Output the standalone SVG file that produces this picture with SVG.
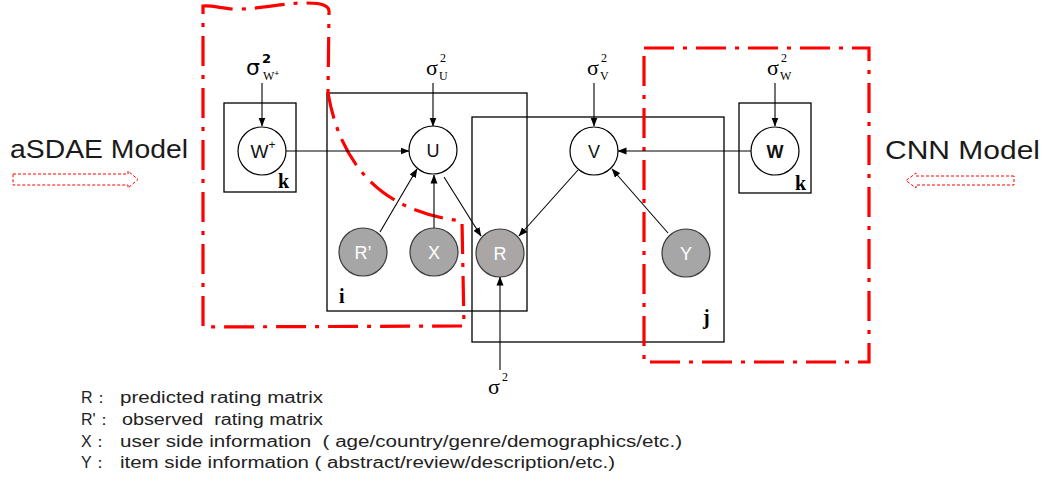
<svg xmlns="http://www.w3.org/2000/svg" width="1047" height="481" viewBox="0 0 1047 481">
<style>
.plate{fill:none;stroke:#000;stroke-width:1.3}
.red{fill:none;stroke:#ff0000;stroke-width:3.2;stroke-dasharray:30 9 4 9}
.hollow{fill:#fff;stroke:#ff0000;stroke-width:1;stroke-dasharray:3 2}
.wnode{fill:#fff;stroke:#000;stroke-width:1.2}
.gnode{fill:#a6a6a6;stroke:#3a3a3a;stroke-width:1.2}
.edge{fill:none;stroke:#000;stroke-width:1.1;marker-end:url(#ah)}
.lbl{font-family:"Liberation Sans","DejaVu Sans",sans-serif;font-size:18px;text-anchor:middle;fill:#111}
.glbl{font-family:"Liberation Sans","DejaVu Sans",sans-serif;font-size:18px;text-anchor:middle;fill:#fff}
.serif{font-family:"Liberation Serif","DejaVu Serif",serif}
.plab{font-family:"Liberation Serif","DejaVu Serif",serif;font-weight:bold;font-size:20px}
.model{font-family:"Liberation Sans","DejaVu Sans",sans-serif;font-size:26px;fill:#1a1a1a}
.leg{font-family:"Liberation Sans","DejaVu Sans",sans-serif;font-size:16px;fill:#222}
</style>
<defs>
<marker id="ah" markerWidth="9" markerHeight="8" refX="8.5" refY="4" orient="auto" markerUnits="userSpaceOnUse">
<path d="M0,0.5 L9,4 L0,7.5 Z" fill="#000"/>
</marker>
</defs>
<rect width="1047" height="481" fill="#fff"/>

<g id="plates">
<rect class="plate" x="224" y="103" width="72" height="89"/>
<rect class="plate" x="327" y="93" width="200" height="218"/>
<rect class="plate" x="472" y="117" width="252" height="225"/>
<rect class="plate" x="739" y="103" width="72" height="90"/>
<text class="plab" x="278" y="188">k</text>
<text class="plab" x="795" y="190">k</text>
<text class="plab" x="339" y="303">i</text>
<text class="plab" x="703" y="324">j</text>
</g>

<g id="regions">
<path class="red" d="M203,6 C215,5 225,10 242,9 C265,8 285,3 305,3 C322,3 330,5 329,13 L328,93 Q348,208 462,221 L464,326 L203,327 Z"/>
<rect class="red" x="644" y="48" width="225" height="314"/>
</g>

<g id="connectors">
<line class="edge" x1="262" y1="83" x2="262" y2="126"/>
<line class="edge" x1="433" y1="83" x2="433" y2="126"/>
<line class="edge" x1="594" y1="83" x2="594" y2="126"/>
<line class="edge" x1="775" y1="83" x2="775" y2="126"/>
<line class="edge" x1="286" y1="151" x2="409" y2="151"/>
<line class="edge" x1="751" y1="151" x2="618" y2="151"/>
<line class="edge" x1="380" y1="232" x2="417" y2="169"/>
<line class="edge" x1="434" y1="228" x2="434" y2="175"/>
<line class="edge" x1="444" y1="177" x2="481" y2="236"/>
<line class="edge" x1="578" y1="170" x2="519" y2="236"/>
<line class="edge" x1="668" y1="233" x2="612" y2="169"/>
<line class="edge" x1="500" y1="370" x2="500" y2="277"/>
</g>

<g id="node-Wplus">
<circle class="wnode" cx="262" cy="151" r="24"/>
<text class="lbl" x="263" y="158" style="font-size:19px">W<tspan style="font-size:12px" dy="-9">+</tspan></text>
</g>
<g id="node-U">
<circle class="wnode" cx="433" cy="150" r="24"/>
<text class="lbl" x="433" y="157">U</text>
</g>
<g id="node-V">
<circle class="wnode" cx="594" cy="151" r="24"/>
<text class="lbl" x="594" y="158">V</text>
</g>
<g id="node-W">
<circle class="wnode" cx="775" cy="151" r="24"/>
<text class="lbl" x="775" y="158" font-weight="bold">W</text>
</g>
<g id="node-Rprime">
<circle class="gnode" cx="363" cy="252" r="24"/>
<text class="glbl" x="363" y="259">R’</text>
</g>
<g id="node-X">
<circle class="gnode" cx="434" cy="252" r="24"/>
<text class="glbl" x="434" y="259">X</text>
</g>
<g id="node-R">
<circle class="gnode" cx="500" cy="253" r="24" style="fill:#aaa6a6"/>
<text class="glbl" x="500" y="260">R</text>
</g>
<g id="node-Y">
<circle class="gnode" cx="686" cy="253" r="24"/>
<text class="glbl" x="686" y="260">Y</text>
</g>

<g id="sigma-Wplus">
<text x="246" y="75" style="font-family:'DejaVu Sans',sans-serif;font-size:22px">σ</text>
<text x="262" y="63" style="font-family:'DejaVu Sans',sans-serif;font-size:13px;font-weight:bold">2</text>
<text x="263" y="80" class="serif" font-size="12">W<tspan font-size="9" dy="-4" font-weight="bold">+</tspan></text>
</g>
<g id="sigma-U">
<text x="426" y="75" class="serif" font-size="22">σ</text>
<text x="440" y="62" class="serif" font-size="12">2</text>
<text x="439" y="80" class="serif" font-size="12">U</text>
</g>
<g id="sigma-V">
<text x="587" y="75" class="serif" font-size="22">σ</text>
<text x="601" y="62" class="serif" font-size="12">2</text>
<text x="600" y="80" class="serif" font-size="12">V</text>
</g>
<g id="sigma-W">
<text x="767" y="75" class="serif" font-size="22">σ</text>
<text x="781" y="62" class="serif" font-size="12">2</text>
<text x="780" y="80" class="serif" font-size="12">W</text>
</g>
<g id="sigma">
<text x="488" y="394" class="serif" font-size="22">σ</text>
<text x="502" y="381" class="serif" font-size="12">2</text>
</g>

<g id="aSDAE">
<text class="model" x="10" y="158" textLength="178" lengthAdjust="spacingAndGlyphs">aSDAE Model</text>
<path class="hollow" d="M13,174 L128,174 L128,171 L138,179.5 L128,188 L128,185 L13,185 Z"/>
</g>
<g id="CNN">
<text class="model" x="885" y="159" textLength="155" lengthAdjust="spacingAndGlyphs">CNN Model</text>
<path class="hollow" d="M1014,176 L916,176 L916,173 L906,180.5 L916,188 L916,185 L1014,185 Z"/>
</g>

<g id="legend">
<text class="leg" x="81" y="403">R：</text>
<text class="leg" x="120" y="403" textLength="203" lengthAdjust="spacingAndGlyphs">predicted rating matrix</text>
<text class="leg" x="81" y="425">R'：</text>
<text class="leg" x="122" y="425" textLength="201" lengthAdjust="spacingAndGlyphs" xml:space="preserve">observed  rating matrix</text>
<text class="leg" x="81" y="447">X：</text>
<text class="leg" x="120" y="447" textLength="562" lengthAdjust="spacingAndGlyphs" xml:space="preserve">user side information  ( age/country/genre/demographics/etc.)</text>
<text class="leg" x="81" y="468">Y：</text>
<text class="leg" x="120" y="468" textLength="495" lengthAdjust="spacingAndGlyphs">item side information ( abstract/review/description/etc.)</text>
</g>
</svg>
